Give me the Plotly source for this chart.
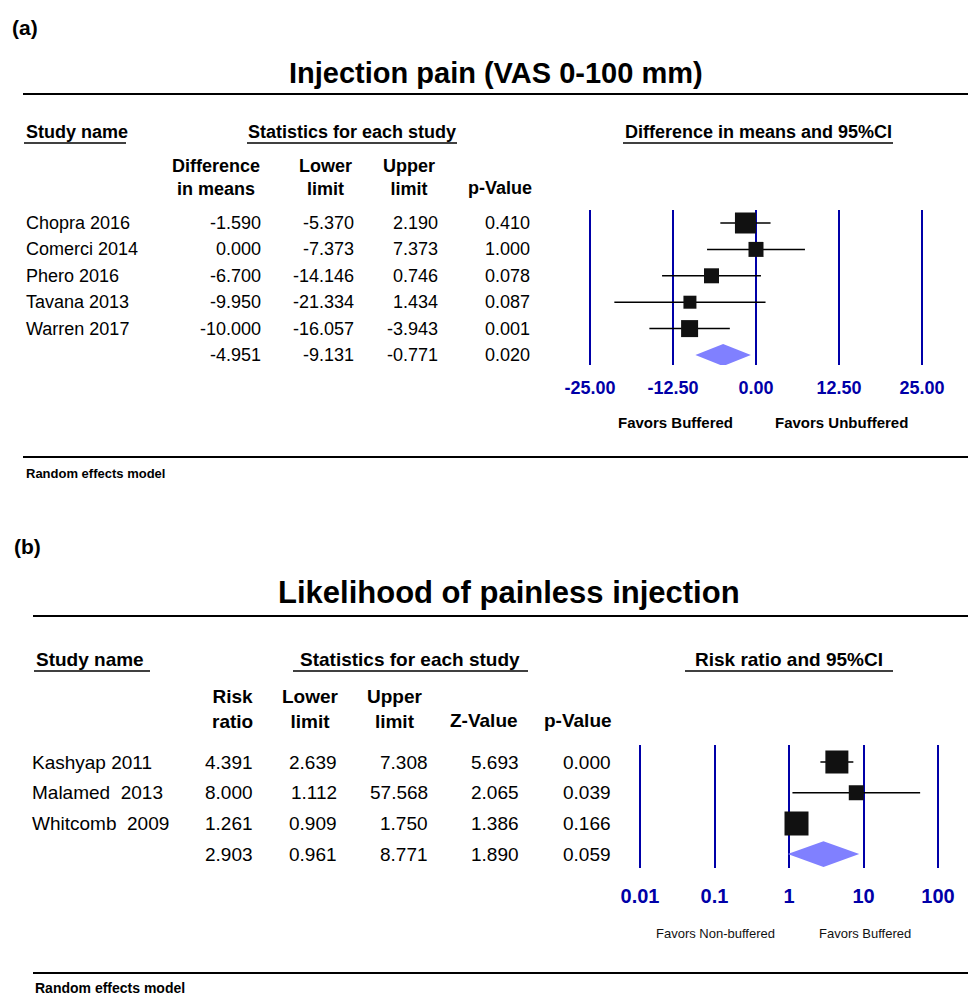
import plotly.graph_objects as go

# ---------------- data: panel (a) ----------------
studies_a = ["Chopra 2016", "Comerci 2014", "Phero 2016", "Tavana 2013", "Warren 2017"]
diff_a = [-1.590, 0.000, -6.700, -9.950, -10.000]
lower_a = [-5.370, -7.373, -14.146, -21.334, -16.057]
upper_a = [2.190, 7.373, 0.746, 1.434, -3.943]
p_a = [0.410, 1.000, 0.078, 0.087, 0.001]
summary_a = {"diff": -4.951, "lower": -9.131, "upper": -0.771, "p": 0.020}
ticks_a = [-25, -12.5, 0, 12.5, 25]
ticklabels_a = ["-25.00", "-12.50", "0.00", "12.50", "25.00"]

# ---------------- data: panel (b) ----------------
studies_b = ["Kashyap 2011", "Malamed\u00a0 2013", "Whitcomb\u00a0 2009"]
rr_b = [4.391, 8.000, 1.261]
lower_b = [2.639, 1.112, 0.909]
upper_b = [7.308, 57.568, 1.750]
z_b = [5.693, 2.065, 1.386]
p_b = [0.000, 0.039, 0.166]
summary_b = {"rr": 2.903, "lower": 0.961, "upper": 8.771, "z": 1.890, "p": 0.059}
ticks_b = [0.01, 0.1, 1, 10, 100]
ticklabels_b = ["0.01", "0.1", "1", "10", "100"]

# ---------------- styles ----------------
W, H = 968, 996
FONT = "Arial, 'Liberation Sans', sans-serif"
BLUE = "#0000A8"
DIAMOND = "#8080FF"
sq_a = [21, 15, 15, 13, 17]      # box sizes (study weights) in px
sq_b = [23, 15, 24]


def px(x):
    return x / W


def py(y):
    return 1 - y / H


fig = go.Figure()

# ---- panel (a) marks ----
rows_a = list(range(len(studies_a)))
lx, ly = [], []
for r, lo, hi in zip(rows_a, lower_a, upper_a):
    lx += [lo, hi, None]
    ly += [r, r, None]
fig.add_trace(go.Scatter(x=lx, y=ly, mode="lines", line=dict(color="black", width=1.5),
                         xaxis="x", yaxis="y", hoverinfo="skip"))
fig.add_trace(go.Scatter(x=diff_a, y=rows_a, mode="markers",
                         marker=dict(symbol="square", size=sq_a, color="#111111",
                                     opacity=1, line=dict(width=0)),
                         xaxis="x", yaxis="y"))
rs = len(studies_a)
hd = 0.42
fig.add_trace(go.Scatter(
    x=[summary_a["lower"], summary_a["diff"], summary_a["upper"], summary_a["diff"], summary_a["lower"]],
    y=[rs, rs - hd, rs, rs + hd, rs], mode="lines", fill="toself",
    fillcolor=DIAMOND, line=dict(width=0, color=DIAMOND), xaxis="x", yaxis="y"))

# ---- panel (b) marks ----
rows_b = list(range(len(studies_b)))
lx, ly = [], []
for r, lo, hi in zip(rows_b, lower_b, upper_b):
    lx += [lo, hi, None]
    ly += [r, r, None]
fig.add_trace(go.Scatter(x=lx, y=ly, mode="lines", line=dict(color="black", width=1.5),
                         xaxis="x2", yaxis="y2", hoverinfo="skip"))
fig.add_trace(go.Scatter(x=rr_b, y=rows_b, mode="markers",
                         marker=dict(symbol="square", size=sq_b, color="#111111",
                                     opacity=1, line=dict(width=0)),
                         xaxis="x2", yaxis="y2"))
rsb = len(studies_b)
hdb = 0.42
fig.add_trace(go.Scatter(
    x=[summary_b["lower"], summary_b["rr"], summary_b["upper"], summary_b["rr"], summary_b["lower"]],
    y=[rsb, rsb - hdb, rsb, rsb + hdb, rsb], mode="lines", fill="toself",
    fillcolor=DIAMOND, line=dict(width=0, color=DIAMOND), xaxis="x2", yaxis="y2"))

# ---- axes ----
ya_top, ya_bot = 210, 365
r0a, dra = 223, 26.4
yb_top, yb_bot = 745, 868
r0b, drb = 762, 30.7

# panel a: -25 -> 590 px, 25 -> 922 px
pa = (922 - 590) / 50.0
ea = 0.6
# panel b: 0.01 -> 640 px, 100 -> 938 px
pb = (938 - 640) / 4.0
eb = 0.03

common_x = dict(showgrid=True, gridcolor=BLUE, gridwidth=2, zeroline=False,
                showline=False, ticks="", tickmode="array")
fig.update_layout(
    xaxis=dict(domain=[px(590 - ea * pa), px(922 + ea * pa)], range=[-25 - ea, 25 + ea],
               tickvals=ticks_a, ticktext=ticklabels_a, anchor="y", ticklabelstandoff=10,
               tickfont=dict(family=FONT, size=18, color=BLUE, weight="bold"), **common_x),
    yaxis=dict(domain=[py(ya_bot), py(ya_top)],
               range=[(ya_bot - r0a) / dra, (ya_top - r0a) / dra],
               visible=False, anchor="x"),
    xaxis2=dict(domain=[px(640 - eb * pb), px(938 + eb * pb)], type="log",
                range=[-2 - eb, 2 + eb], tickvals=ticks_b, ticktext=ticklabels_b,
                anchor="y2", ticklabelstandoff=14,
                tickfont=dict(family=FONT, size=20, color=BLUE, weight="bold"), **common_x),
    yaxis2=dict(domain=[py(yb_bot), py(yb_top)],
                range=[(yb_bot - r0b) / drb, (yb_top - r0b) / drb],
                visible=False, anchor="x2"),
)

ann = []
shapes = []


def text(x, y, s, size, bold=False, anchor="left", color="black", yref="paper"):
    ann.append(dict(x=x, y=y, xref="paper", yref=yref, text=s, showarrow=False,
                    xanchor=anchor, yanchor="middle",
                    font=dict(family=FONT, size=size, color=color,
                              weight="bold" if bold else "normal")))


def hline(x0, x1, y, w=1.5):
    shapes.append(dict(type="line", xref="paper", yref="paper", x0=px(x0), x1=px(x1),
                       y0=py(y), y1=py(y), line=dict(color="black", width=w)))


# ---------------- panel (a) text ----------------
text(px(10), py(27), "(a)", 21, bold=True)
text(px(496), py(73), "Injection pain (VAS 0-100 mm)", 29, bold=True, anchor="center")
hline(23, 968, 94, 2)
text(px(24), py(132), "Study name", 18, bold=True)
hline(24, 126, 143)
text(px(352), py(132), "Statistics for each study", 18, bold=True, anchor="center")
hline(247, 457, 143)
text(px(758), py(132), "Difference in means and 95%CI", 18, bold=True, anchor="center")
hline(623, 893, 143)
hdr_a = [("Difference<br>in means", 216), ("Lower<br>limit", 325), ("Upper<br>limit", 409)]
for s, cx in hdr_a:
    ann.append(dict(x=px(cx), y=py(177), xref="paper", yref="paper", text=s, showarrow=False,
                    xanchor="center", yanchor="middle",
                    font=dict(family=FONT, size=18, color="black", weight="bold")))
text(px(500), py(188), "p-Value", 18, bold=True, anchor="center")

for i, name in enumerate(studies_a):
    text(px(24), i, name, 18, yref="y")
    text(px(263), i, f"{diff_a[i]:.3f}", 18, anchor="right", yref="y")
    text(px(356), i, f"{lower_a[i]:.3f}", 18, anchor="right", yref="y")
    text(px(440), i, f"{upper_a[i]:.3f}", 18, anchor="right", yref="y")
    text(px(532), i, f"{p_a[i]:.3f}", 18, anchor="right", yref="y")
text(px(263), rs, f"{summary_a['diff']:.3f}", 18, anchor="right", yref="y")
text(px(356), rs, f"{summary_a['lower']:.3f}", 18, anchor="right", yref="y")
text(px(440), rs, f"{summary_a['upper']:.3f}", 18, anchor="right", yref="y")
text(px(532), rs, f"{summary_a['p']:.3f}", 18, anchor="right", yref="y")

text(px(675), py(423), "Favors Buffered", 15, bold=True, anchor="center")
text(px(841), py(423), "Favors Unbuffered", 15, bold=True, anchor="center")
hline(23, 968, 457, 2)
text(px(24), py(473), "Random effects model", 13, bold=True)

# ---------------- panel (b) text ----------------
text(px(12), py(546), "(b)", 21, bold=True)
text(px(509), py(592), "Likelihood of painless injection", 31, bold=True, anchor="center")
hline(33, 968, 616, 2)
text(px(34), py(659), "Study name", 19, bold=True)
hline(34, 150, 671)
text(px(410), py(659), "Statistics for each study", 19, bold=True, anchor="center")
hline(293, 528, 671)
text(px(789), py(659), "Risk ratio and 95%CI", 19, bold=True, anchor="center")
hline(685, 893, 671)
hdr_b = [("Risk<br>ratio", 232), ("Lower<br>limit", 310), ("Upper<br>limit", 395)]
for s, cx in hdr_b:
    ann.append(dict(x=px(cx), y=py(709), xref="paper", yref="paper", text=s, showarrow=False,
                    xanchor="center", yanchor="middle",
                    font=dict(family=FONT, size=19, color="black", weight="bold")))
text(px(484), py(720), "Z-Value", 19, bold=True, anchor="center")
text(px(578), py(720), "p-Value", 19, bold=True, anchor="center")

for i, name in enumerate(studies_b):
    text(px(30), i, name, 19, yref="y2")
    text(px(255), i, f"{rr_b[i]:.3f}", 19, anchor="right", yref="y2")
    text(px(339), i, f"{lower_b[i]:.3f}", 19, anchor="right", yref="y2")
    text(px(430), i, f"{upper_b[i]:.3f}", 19, anchor="right", yref="y2")
    text(px(521), i, f"{z_b[i]:.3f}", 19, anchor="right", yref="y2")
    text(px(613), i, f"{p_b[i]:.3f}", 19, anchor="right", yref="y2")
text(px(255), rsb, f"{summary_b['rr']:.3f}", 19, anchor="right", yref="y2")
text(px(339), rsb, f"{summary_b['lower']:.3f}", 19, anchor="right", yref="y2")
text(px(430), rsb, f"{summary_b['upper']:.3f}", 19, anchor="right", yref="y2")
text(px(521), rsb, f"{summary_b['z']:.3f}", 19, anchor="right", yref="y2")
text(px(613), rsb, f"{summary_b['p']:.3f}", 19, anchor="right", yref="y2")

text(px(715), py(933), "Favors Non-buffered", 13, anchor="center", color="#111111")
text(px(865), py(933), "Favors Buffered", 13, anchor="center", color="#111111")
hline(33, 968, 973, 2)
text(px(33), py(988), "Random effects model", 14, bold=True)

fig.update_layout(
    width=W, height=H, margin=dict(l=0, r=0, t=0, b=0, pad=0, autoexpand=False),
    paper_bgcolor="white", plot_bgcolor="white", showlegend=False,
    annotations=ann, shapes=shapes, font=dict(family=FONT),
)

fig.write_html("out.html", config={"displayModeBar": False},
               post_script="document.body.style.margin='0px';")
